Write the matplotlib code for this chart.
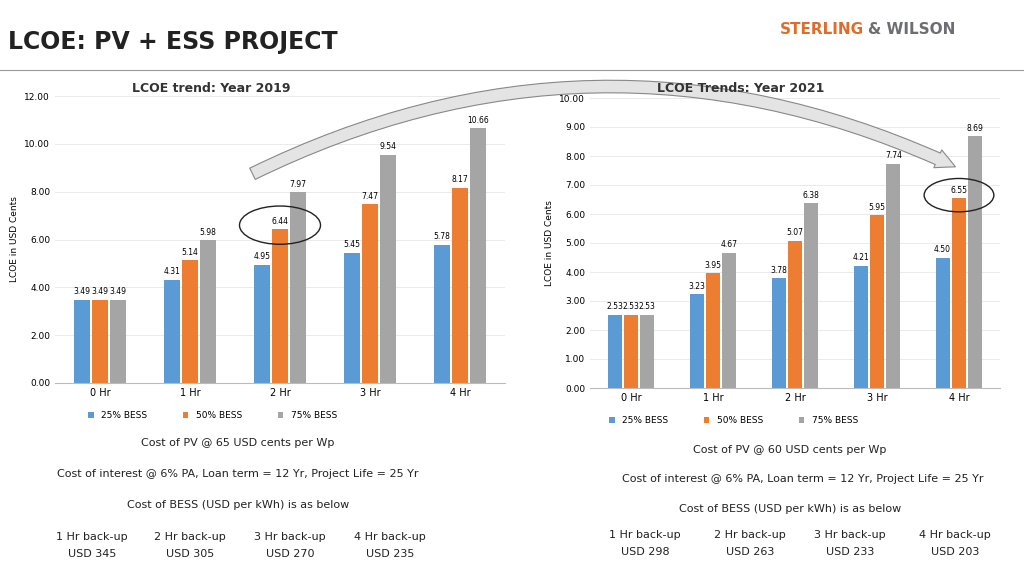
import matplotlib.pyplot as plt
import numpy as np
from matplotlib.patches import FancyArrowPatch, Ellipse

categories = ['0 Hr', '1 Hr', '2 Hr', '3 Hr', '4 Hr']
series = ['25% BESS', '50% BESS', '75% BESS']
lcoe_2019 = [[3.49, 4.31, 4.95, 5.45, 5.78],
             [3.49, 5.14, 6.44, 7.47, 8.17],
             [3.49, 5.98, 7.97, 9.54, 10.66]]
lcoe_2021 = [[2.53, 3.23, 3.78, 4.21, 4.50],
             [2.53, 3.95, 5.07, 5.95, 6.55],
             [2.53, 4.67, 6.38, 7.74, 8.69]]
colors = ['#5B9BD5', '#ED7D31', '#A5A5A5']

fig = plt.figure(figsize=(10.24, 5.67), dpi=100)
W, H = 1024, 567

def fx(px):
    return px / W

def fy(py):
    return 1 - py / H

def bar_chart(rect, data, ymax, step):
    ax = fig.add_axes(rect)
    x = np.arange(len(categories))
    w = 0.2
    for i, (vals, c) in enumerate(zip(data, colors)):
        bars = ax.bar(x + (i - 1) * w, vals, w * 0.85, color=c, label=series[i], zorder=2)
        for b, v in zip(bars, vals):
            ax.text(b.get_x() + b.get_width() / 2, v + ymax * 0.012, f'{v:.2f}',
                    ha='center', va='bottom', fontsize=5.5)
    ax.set_xlim(-0.5, 4.5)
    ax.set_ylim(0, ymax)
    ax.set_yticks(np.arange(0, ymax + 0.01, step))
    ax.set_yticklabels([f'{t:.2f}' for t in np.arange(0, ymax + 0.01, step)], fontsize=6.5)
    ax.set_xticks(x)
    ax.set_xticklabels(categories, fontsize=7)
    ax.tick_params(length=0)
    ax.grid(axis='y', color='#e6e6e6', lw=0.6, zorder=0)
    for s in ['top', 'right', 'left']:
        ax.spines[s].set_visible(False)
    ax.spines['bottom'].set_color('#bbbbbb')
    ax.set_ylabel('LCOE in USD Cents', fontsize=6.5)
    ax.legend(loc='upper center', bbox_to_anchor=(0.35, -0.07), ncol=3, frameon=False,
              fontsize=6.5, handlelength=0.6, handleheight=0.6, columnspacing=4)
    return ax

ax1 = bar_chart([fx(55), fy(383), fx(505) - fx(55), fy(96) - fy(383)], lcoe_2019, 12, 2)
ax2 = bar_chart([fx(590), fy(388), fx(1000) - fx(590), fy(98) - fy(388)], lcoe_2021, 10, 1)

fig.text(fx(211), fy(88), 'LCOE trend: Year 2019', ha='center', va='center',
         fontsize=9, fontweight='bold', color='#333333', zorder=12)
fig.text(fx(741), fy(88), 'LCOE Trends: Year 2021', ha='center', va='center',
         fontsize=9, fontweight='bold', color='#333333', zorder=12)

# highlight circles
ax1.add_patch(Ellipse((2.0, 6.6), 0.9, 1.6, fill=False, ec='#222222', lw=1, zorder=5))
ax2.add_patch(Ellipse((4.0, 6.65), 0.85, 1.15, fill=False, ec='#222222', lw=1, zorder=5))

# header
fig.text(fx(8), fy(42), 'LCOE: PV + ESS PROJECT', fontsize=17, fontweight='bold',
         color='#222222', va='center')
fig.add_artist(plt.Line2D([0, 1], [fy(70), fy(70)], color='#999999', lw=0.8))
fig.text(fx(780), fy(30), 'STERLING', fontsize=11, fontweight='bold', color='#e06c2c', va='center')
fig.text(fx(868), fy(30), '& WILSON', fontsize=11, fontweight='bold', color='#6d6e71', va='center')

# curved arrow
arrow = FancyArrowPatch((fx(250), fy(175)), (fx(958), fy(168)), transform=fig.transFigure,
                        connectionstyle='arc3,rad=-0.24',
                        arrowstyle='simple,head_width=14,head_length=14,tail_width=9',
                        fc='#e4e4e4', ec='#888888', lw=0.8, zorder=10)
fig.add_artist(arrow)

# notes
notes_left = [(238, 443, 'Cost of PV @ 65 USD cents per Wp'),
              (238, 474, 'Cost of interest @ 6% PA, Loan term = 12 Yr, Project Life = 25 Yr'),
              (238, 505, 'Cost of BESS (USD per kWh) is as below')]
notes_right = [(790, 450, 'Cost of PV @ 60 USD cents per Wp'),
               (803, 479, 'Cost of interest @ 6% PA, Loan term = 12 Yr, Project Life = 25 Yr'),
               (790, 509, 'Cost of BESS (USD per kWh) is as below')]
for px, py, t in notes_left + notes_right:
    fig.text(fx(px), fy(py), t, ha='center', va='center', fontsize=8, color='#222222')

backup_left_x = [92, 190, 290, 390]
backup_left = ['USD 345', 'USD 305', 'USD 270', 'USD 235']
backup_right_x = [645, 750, 850, 955]
backup_right = ['USD 298', 'USD 263', 'USD 233', 'USD 203']
for i in range(4):
    for xs, vals, y1, y2 in [(backup_left_x, backup_left, 537, 554),
                             (backup_right_x, backup_right, 535, 552)]:
        fig.text(fx(xs[i]), fy(y1), f'{i + 1} Hr back-up', ha='center', va='center',
                 fontsize=8, color='#222222')
        fig.text(fx(xs[i]), fy(y2), vals[i], ha='center', va='center',
                 fontsize=8, color='#222222')

fig.savefig('out.png', dpi=100)
